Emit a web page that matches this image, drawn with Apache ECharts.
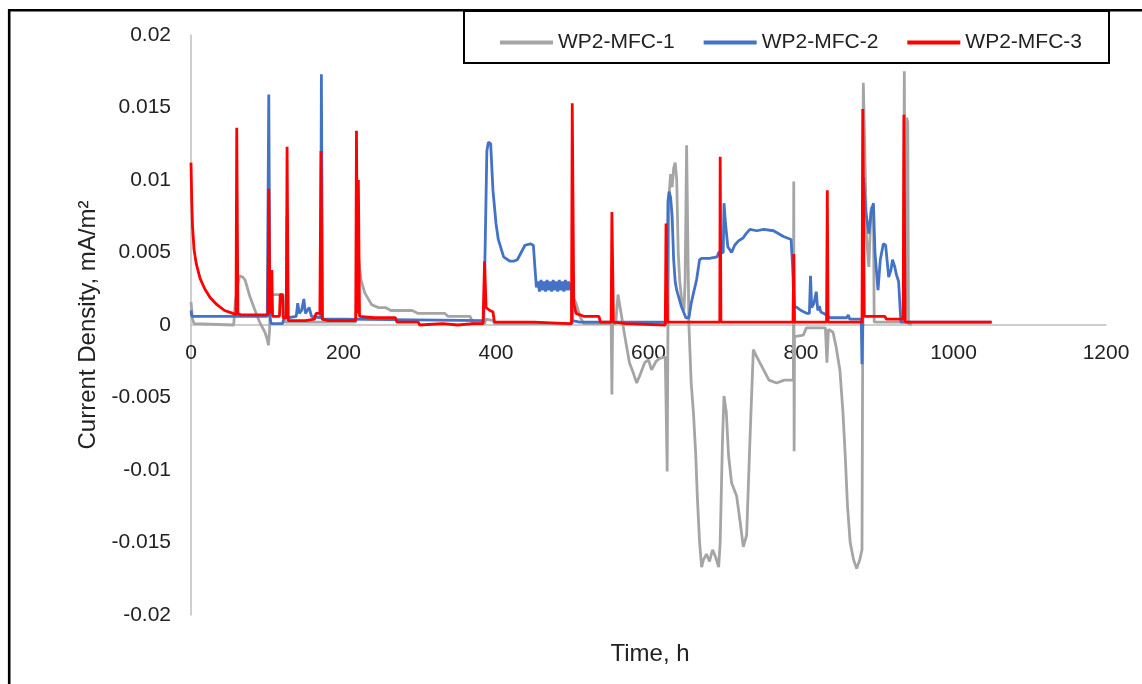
<!DOCTYPE html>
<html>
<head>
<meta charset="utf-8">
<script src="https://cdn.jsdelivr.net/npm/echarts@6/dist/echarts.min.js"></script>
<style>html,body{margin:0;padding:0;background:#fff}#c{width:1142px;height:684px}</style>
</head>
<body>
<div id="c"></div>
<script>
// ---- data (time in h, current density in mA/m2) ----
const seriesNames = ['WP2-MFC-1', 'WP2-MFC-2', 'WP2-MFC-3'];
const xTicks = [0, 200, 400, 600, 800, 1000, 1200];
const yTicks = [-0.02, -0.015, -0.01, -0.005, 0, 0.005, 0.01, 0.015, 0.02];

const mfc1T = [0,2,4,56,58,62,64,68,71,77,84,90,97,100,101.5,103,104,106,121,123,216,219,221,223,228,237,246,255,262,290,298,333,337,366,370,385,387,396,398,500,502,505,510,515,551,552,553,557,560,562,565,569,575,580,584.5,590,595,600,604,610,615,622,623.5,624.5,625.5,627,629,631,633,635,637,639,641,644,646.5,648,650,651.5,653,656,659,662,664,667,669.7,672,676,680,684,688,692,694,697,699,702,705,709,715.6,720,724.3,728.7,733,737.5,742,746,752,758,768,778,786,790,790.5,791,791.5,803,807,832,834,836,842,846,851,855,858,861,864.5,869,873,877,880,881,881.7,883,886,889,892,895,896,934,935.5,937,938.5,940,941,945];
const mfc1V = [0.0016,0.0004,0.0001,0.0,0.0015,0.0030,0.0034,0.0033,0.0031,0.0020,0.0010,0.0002,-0.0005,-0.0010,-0.0014,-0.0004,0.0015,0.0021,0.0021,0.0002,0.0002,0.0050,0.0040,0.0031,0.0022,0.0014,0.0012,0.0012,0.0010,0.0010,0.0008,0.0008,0.0006,0.0006,0.0001,0.0001,0.0004,0.0003,0.0001,0.0001,0.0018,0.0015,0.0006,0.0001,0.0001,-0.0048,0.0001,0.0001,0.0021,0.0021,0.0005,-0.0008,-0.0026,-0.0033,-0.0040,-0.0033,-0.0026,-0.0024,-0.0031,-0.0025,-0.0023,-0.0022,-0.0022,-0.0101,0.0000,0.0090,0.0104,0.0095,0.0108,0.0112,0.0100,0.0050,0.0030,0.0015,0.0010,0.0030,0.0124,0.0060,0.0000,-0.0040,-0.0061,-0.0090,-0.0118,-0.0150,-0.0167,-0.0162,-0.0158,-0.0163,-0.0155,-0.0160,-0.0167,-0.0150,-0.0080,-0.0049,-0.0060,-0.0090,-0.0109,-0.0118,-0.0135,-0.0153,-0.0145,-0.0080,-0.0017,-0.0022,-0.0026,-0.0032,-0.0038,-0.0040,-0.0038,-0.0038,-0.0038,0.0099,-0.0087,-0.0008,-0.0007,-0.0002,-0.0002,-0.0026,-0.0003,-0.0005,-0.0015,-0.0031,-0.0060,-0.0090,-0.0125,-0.0150,-0.0162,-0.0168,-0.0162,-0.0155,0.0000,0.0167,0.0137,0.0060,0.0040,0.0081,0.0081,0.0002,0.0002,0.0175,0.0003,0.0143,0.0140,0.0001,0.0];

const mfc2T = [0,1,100,101,102,103.5,105,120,122,125,126,127,138,140,142,145,148,150,155,158,170,171,172.5,200,384,386,388,390,393,396,400,403,410,418,423,428,433,438,445,449,451,453,455,457,459,461,463,465,467,469,471,473,475,477,479,481,483,485,487,489,491,493,495,497,499,500,510,624,625.5,627,629,631,633,635,637,643,649,653,656,659,663,667,670,680,690,692,698,699,701,704,709,713,718,724,728,733,742,751,764,777,787,789,791,795,800,808,811,812.5,814,817,820,822,824,826,830,838,860,862,864,879,880,881,882,885,889,892,895,897,901,904,908,911,915,918,920,923,925,928,931,1050];
const mfc2V = [0.0010,0.0006,0.0006,0.0006,0.0159,0.0006,0.0001,0.0001,0.0005,0.0005,0.0075,0.0005,0.0006,0.0015,0.0008,0.0010,0.0018,0.0008,0.0012,0.0006,0.0005,0.0173,0.0004,0.0004,0.0003,0.0060,0.0120,0.0126,0.0125,0.0093,0.0070,0.0059,0.0047,0.0044,0.0044,0.0045,0.0050,0.0055,0.0056,0.0055,0.0040,0.0026,0.0030,0.0023,0.0031,0.0024,0.0030,0.0023,0.0031,0.0024,0.0030,0.0023,0.0031,0.0024,0.0030,0.0023,0.0031,0.0024,0.0030,0.0023,0.0031,0.0024,0.0030,0.0024,0.0029,0.0003,0.0002,0.0002,0.0085,0.0092,0.0088,0.0075,0.0045,0.0030,0.0024,0.0013,0.0005,0.0005,0.0015,0.0022,0.0031,0.0045,0.0046,0.0046,0.0047,0.0050,0.0050,0.0084,0.0070,0.0054,0.0050,0.0055,0.0058,0.0060,0.0063,0.0066,0.0065,0.0066,0.0065,0.0061,0.0059,0.0040,0.0013,0.0012,0.0010,0.0008,0.0008,0.0034,0.0012,0.0015,0.0023,0.0010,0.0013,0.0009,0.0008,0.0005,0.0005,0.0007,0.0004,0.0004,-0.0027,0.0,0.0102,0.0078,0.0063,0.0078,0.0084,0.0050,0.0024,0.0045,0.0056,0.0055,0.0033,0.0038,0.0045,0.0040,0.0035,0.0030,0.0002,0.0002];

const mfc3T = [0,1,2,4,7,12,18,25,34,44,55,59,60,61.5,65,80,101,102,103.5,105,106,107,116,117,120,121,125,126,127.5,150,162,164,169,170.5,172,180,216,217,218.5,219.5,221,240,268,270,298,300,330,350,370,383,385,387,392,396,398,450,495,499,500,502,505,515,535,537,551,552,554,570,622,623,625,688,693.5,694,695,789.5,790.5,791.5,833.5,834.5,835.5,880,881,883,910,912,934,935,936.5,1050];
const mfc3V = [0.0112,0.0085,0.0068,0.0052,0.0042,0.0032,0.0025,0.0019,0.0014,0.0010,0.0008,0.0007,0.0136,0.0008,0.0007,0.0007,0.0007,0.0094,0.0008,0.0008,0.0038,0.0006,0.0006,0.0021,0.0021,0.0005,0.0005,0.0123,0.0003,0.0003,0.0004,0.0008,0.0008,0.0120,0.0004,0.0003,0.0003,0.0134,0.0008,0.0100,0.0006,0.0005,0.0005,0.0002,0.0002,0.0,0.0001,0.0,0.0001,0.0001,0.0044,0.0012,0.0010,0.0009,0.0002,0.0002,0.0001,0.0001,0.0153,0.0015,0.0008,0.0006,0.0006,0.0002,0.0002,0.0078,0.0002,0.0001,0.0,0.0070,0.0002,0.0002,0.0002,0.0116,0.0002,0.0002,0.0049,0.0002,0.0002,0.0093,0.0002,0.0002,0.0149,0.0006,0.0006,0.0004,0.0004,0.0145,0.0002,0.0002];

const colors = ['#A5A5A5', '#4472C4', '#FF0000'];
const FONT = 'Liberation Sans';

function pairs(t, v) { return t.map((x, i) => [x, v[i]]); }

const chart = echarts.init(document.getElementById('c'), null, { renderer: 'canvas' });
chart.setOption({
  animation: false,
  backgroundColor: '#ffffff',
  textStyle: { fontFamily: FONT },
  grid: { left: 191, right: 36, top: 35, bottom: 69, containLabel: false },
  legend: {
    data: seriesNames,
    left: 495, top: 27,
    icon: 'rect', itemWidth: 53, itemHeight: 4, itemGap: 29,
    textStyle: { fontSize: 21, color: '#222', fontFamily: FONT }
  },
  xAxis: {
    type: 'value', min: xTicks[0], max: xTicks[xTicks.length - 1], interval: 200,
    offset: -290,
    axisLine: { show: true, onZero: false, lineStyle: { color: '#BFBFBF', width: 1.5 } },
    axisTick: { show: false },
    splitLine: { show: false },
    axisLabel: { fontSize: 21, color: '#222', margin: 18, fontFamily: FONT, formatter: v => String(v) }
  },
  yAxis: {
    type: 'value', min: yTicks[0], max: yTicks[yTicks.length - 1], interval: 0.005,
    name: 'Current Density, mA/m²', nameLocation: 'middle', nameGap: 91, nameRotate: 90,
    nameTextStyle: { fontSize: 24, color: '#222', fontFamily: FONT },
    axisLine: { show: true, lineStyle: { color: '#BFBFBF', width: 1.5 } },
    axisTick: { show: false },
    splitLine: { show: false },
    axisLabel: { fontSize: 21, color: '#222', margin: 20, fontFamily: FONT, formatter: v => String(v) }
  },
  graphic: [
    { type: 'rect', z: 100, shape: { x: 9.2, y: 10.2, width: 1300, height: 900 }, style: { fill: 'none', stroke: '#000', lineWidth: 2.6 } },
    { type: 'rect', z: 100, shape: { x: 464, y: 11, width: 645, height: 52 }, style: { fill: 'none', stroke: '#000', lineWidth: 2 } },
    { type: 'text', z: 100, x: 650, y: 654, style: { text: 'Time, h', fontSize: 24, fill: '#222', fontFamily: FONT, textAlign: 'center', textVerticalAlign: 'middle' } }
  ],
  series: [
    { name: seriesNames[0], type: 'line', data: pairs(mfc1T, mfc1V), showSymbol: false, symbol: 'none', lineStyle: { color: colors[0], width: 2.8 }, itemStyle: { color: colors[0] }, z: 2 },
    { name: seriesNames[1], type: 'line', data: pairs(mfc2T, mfc2V), showSymbol: false, symbol: 'none', lineStyle: { color: colors[1], width: 2.8 }, itemStyle: { color: colors[1] }, z: 3 },
    { name: seriesNames[2], type: 'line', data: pairs(mfc3T, mfc3V), showSymbol: false, symbol: 'none', lineStyle: { color: colors[2], width: 2.8 }, itemStyle: { color: colors[2] }, z: 4 }
  ]
});
</script>
</body>
</html>
